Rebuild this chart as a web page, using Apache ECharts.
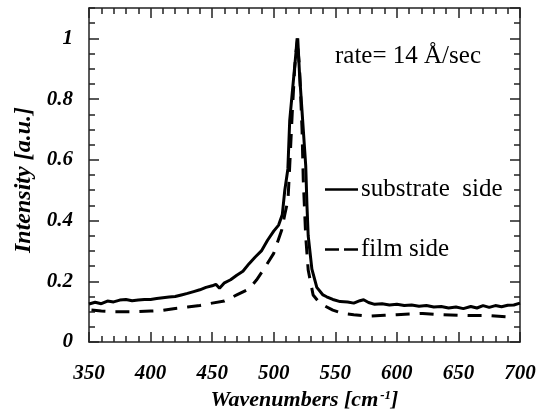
<!DOCTYPE html>
<html>
<head>
<meta charset="utf-8">
<script src="https://cdn.jsdelivr.net/npm/echarts@6/dist/echarts.min.js"></script>
<style>
  html, body { margin: 0; padding: 0; background: #fff; }
  #main { width: 546px; height: 412px; }
</style>
</head>
<body>
<div id="main"></div>
<script>
// substrate side (solid)
var substrateX = [350, 355, 360, 365, 370, 375, 380, 385, 390, 395, 400, 405, 410, 415, 420, 425, 430, 435, 440, 445, 450, 453, 456, 460, 465, 470, 475, 480, 485, 490, 495, 500, 504, 507, 509, 511.5, 513, 515.5, 518, 519.5, 521, 523.5, 526, 527, 528, 531, 535, 540, 543, 548, 554, 560, 565, 570, 573, 577, 582, 588, 594, 600, 606, 612, 618, 624, 630, 636, 642, 648, 654, 660, 665, 670, 675, 680, 685, 690, 695, 700];
var substrateY = [0.125, 0.131, 0.126, 0.135, 0.132, 0.138, 0.14, 0.136, 0.138, 0.14, 0.14, 0.143, 0.146, 0.148, 0.15, 0.155, 0.16, 0.166, 0.172, 0.18, 0.185, 0.19, 0.177, 0.195, 0.205, 0.22, 0.233, 0.258, 0.28, 0.3, 0.335, 0.365, 0.385, 0.42, 0.5, 0.57, 0.73, 0.84, 0.95, 1.0, 0.88, 0.73, 0.58, 0.45, 0.35, 0.24, 0.18, 0.155, 0.149, 0.14, 0.133, 0.132, 0.128, 0.136, 0.139, 0.13, 0.124, 0.126, 0.122, 0.124, 0.12, 0.122, 0.118, 0.12, 0.115, 0.117, 0.112, 0.115, 0.11, 0.117, 0.112, 0.12, 0.114, 0.12, 0.116, 0.121, 0.122, 0.128];

// film side (dashed)
var filmX = [352, 360, 370, 380, 390, 400, 410, 420, 430, 440, 450, 460, 470, 480, 486, 492, 500, 506.5, 509, 511.6, 513, 515, 517, 519, 521, 523, 524, 526, 528, 532, 536, 540, 548, 556, 565, 578, 590, 600, 610, 621, 635, 650, 665, 675, 689];
var filmY = [0.105, 0.102, 0.1, 0.1, 0.1, 0.102, 0.104, 0.11, 0.115, 0.12, 0.128, 0.135, 0.155, 0.175, 0.204, 0.24, 0.292, 0.369, 0.42, 0.468, 0.58, 0.75, 0.9, 1.0, 0.9, 0.7, 0.534, 0.347, 0.237, 0.155, 0.135, 0.122, 0.105, 0.094, 0.09, 0.085, 0.088, 0.09, 0.092, 0.094, 0.09, 0.088, 0.087, 0.087, 0.083];

var xTicks = [350, 700, 50];   // min, max, step
var yTicks = [0, 1.1, 0.2];

function pairs(xs, ys) {
  var out = [];
  for (var i = 0; i < xs.length; i++) out.push([xs[i], ys[i]]);
  return out;
}

var serif = '"Liberation Serif", "Times New Roman", serif';
var axisColor = '#222';
var tickLabel = { fontFamily: serif, fontStyle: 'italic', fontWeight: 'bold', fontSize: 21, color: '#000' };

function xAx(pos, labels) {
  return {
    type: 'value', position: pos, min: xTicks[0], max: xTicks[1], interval: xTicks[2],
    axisLine: { show: true, onZero: false, lineStyle: { color: axisColor, width: 1.5 } },
    axisTick: { show: true, inside: true, length: 10, lineStyle: { color: axisColor, width: 1.5 } },
    minorTick: { show: true, splitNumber: 5, length: 6, lineStyle: { color: axisColor, width: 1.5 } },
    splitLine: { show: false },
    axisLabel: labels ? Object.assign({ margin: 21 }, tickLabel) : { show: false },
    name: labels ? 'Wavenumbers [cm{sup|-1}]' : '',
    nameLocation: 'middle', nameGap: 45,
    nameTextStyle: {
      fontFamily: serif, fontStyle: 'italic', fontWeight: 'bold', fontSize: 22, color: '#000',
      rich: { sup: { fontFamily: serif, fontStyle: 'italic', fontWeight: 'bold', fontSize: 13, verticalAlign: 'top', padding: [0, 0, 10, 2] } }
    }
  };
}

function yAx(pos, step, len, labels, line) {
  return {
    type: 'value', position: pos, min: yTicks[0], max: yTicks[1], interval: step,
    axisLine: { show: line, onZero: false, lineStyle: { color: axisColor, width: 1.5 } },
    axisTick: { show: true, inside: true, length: len, lineStyle: { color: axisColor, width: 1.5 } },
    splitLine: { show: false },
    axisLabel: labels ? Object.assign({
      margin: 16, showMaxLabel: false,
      formatter: function (v) { return v > 1.05 ? '' : String(Math.round(v * 10) / 10); }
    }, tickLabel) : { show: false },
    name: labels ? 'Intensity [a.u.]' : '',
    nameLocation: 'middle', nameGap: 51, nameRotate: 90,
    nameTextStyle: { fontFamily: serif, fontStyle: 'italic', fontWeight: 'bold', fontSize: 24, color: '#000', padding: [0, 10, 0, 0] }
  };
}

var chart = echarts.init(document.getElementById('main'));
chart.setOption({
  animation: false,
  backgroundColor: '#fff',
  grid: { left: 89, right: 26, top: 8, bottom: 70, outerBoundsMode: 'none' },
  title: {
    text: 'rate= 14 Å/sec', left: 330, top: 39,
    textStyle: { fontFamily: serif, fontWeight: 'normal', fontSize: 25, color: '#000' }
  },
  legend: {
    orient: 'vertical', left: 320, top: 172, itemGap: 35, itemWidth: 33, itemHeight: 14,
    textStyle: { fontFamily: serif, fontSize: 25, color: '#000', padding: [0, 0, 0, -2] },
    data: [
      { name: 'substrate  side', icon: 'path://M0,6 L33,6 L33,8.5 L0,8.5 Z', itemStyle: { color: '#000' } },
      { name: 'film side', icon: 'path://M0,6 L14,6 L14,8.5 L0,8.5 Z M19,6 L33,6 L33,8.5 L19,8.5 Z', itemStyle: { color: '#000' } }
    ]
  },
  xAxis: [xAx('bottom', true), xAx('top', false)],
  yAxis: [
    yAx('left', yTicks[2], 10, true, true),
    yAx('left', 0.05, 6, false, false),
    yAx('right', yTicks[2], 10, false, true),
    yAx('right', 0.05, 6, false, false)
  ],
  series: [
    {
      name: 'substrate  side', type: 'line', symbol: 'none', xAxisIndex: 0, yAxisIndex: 0,
      lineStyle: { color: '#000', width: 3 },
      data: pairs(substrateX, substrateY)
    },
    {
      name: 'film side', type: 'line', symbol: 'none', xAxisIndex: 0, yAxisIndex: 0,
      lineStyle: { color: '#000', width: 3, type: [14, 10] },
      data: pairs(filmX, filmY)
    }
  ]
});
</script>
</body>
</html>
